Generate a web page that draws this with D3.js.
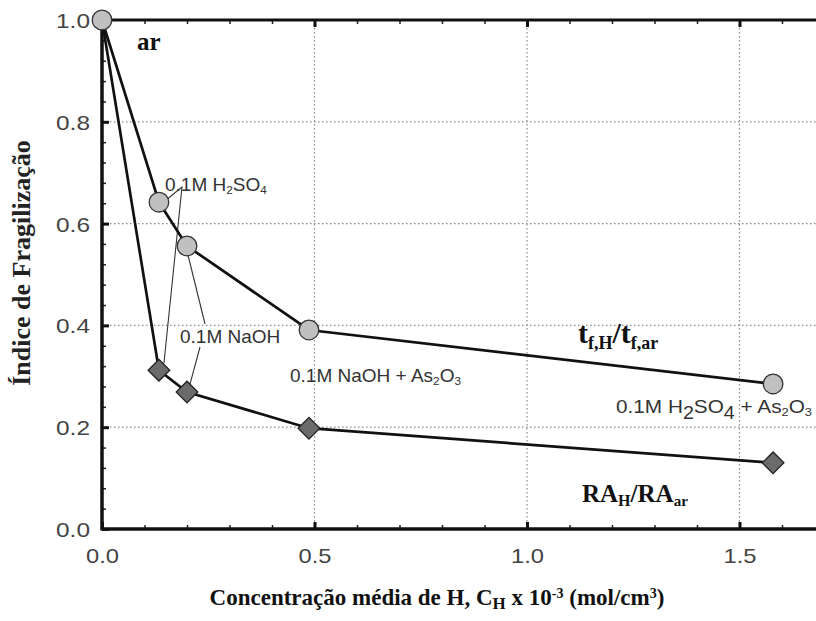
<!DOCTYPE html>
<html>
<head>
<meta charset="utf-8">
<script src="https://cdn.jsdelivr.net/npm/d3@7"></script>
<style>
  html, body { margin: 0; padding: 0; background: #fff; }
  svg { display: block; }
</style>
</head>
<body>
<svg id="chart" width="816" height="621"></svg>
<script>
// Average hydrogen concentration (x 10^-3 mol/cm^3)
const concentration = [0.0, 0.134, 0.200, 0.487, 1.579];
// Time-to-fracture ratio t_f,H / t_f,ar
const timeRatio = [1.0, 0.642, 0.556, 0.391, 0.285];
// Area-reduction ratio RA_H / RA_ar
const areaRatio = [1.0, 0.312, 0.269, 0.198, 0.130];
const xTicks = [0.0, 0.5, 1.0, 1.5];
const yTicks = [0.0, 0.2, 0.4, 0.6, 0.8, 1.0];

const svg = d3.select("#chart");
const pLeft = 102, pTop = 20, pBottom = 529, pRight = 816;
const x = d3.scaleLinear().domain([0, (pRight - pLeft) / 425]).range([pLeft, pRight]);
const y = d3.scaleLinear().domain([0, 1]).range([pBottom, pTop]);

const sans = "'Liberation Sans', Arial, sans-serif";
const serif = "'Liberation Serif', 'Times New Roman', serif";

// dotted grid
const grid = svg.append("g").attr("stroke", "#8a8a8a").attr("stroke-width", 1.2)
  .attr("stroke-dasharray", "1.5,2.5");
[0.2, 0.4, 0.6, 0.8].forEach(v => grid.append("line")
  .attr("x1", pLeft).attr("x2", pRight).attr("y1", y(v)).attr("y2", y(v)));
[0.5, 1.0, 1.5].forEach(v => grid.append("line")
  .attr("x1", x(v)).attr("x2", x(v)).attr("y1", pTop).attr("y2", pBottom));

// axes with inward ticks
const xMinor = d3.range(0.1, 1.7, 0.1).filter(v => Math.abs(v * 2 - Math.round(v * 2)) > 1e-6);
const yMinor = d3.range(0.04, 1.0, 0.04).filter(v => Math.abs(v * 5 - Math.round(v * 5)) > 1e-6);

function stripAxis(g) {
  g.selectAll("text").remove();
  g.select(".domain").remove();
}

const xAxisBottom = svg.append("g").attr("transform", `translate(0,${pBottom})`)
  .call(d3.axisBottom(x).tickValues(xTicks).tickSize(-7).tickFormat(d3.format(".1f")));
xAxisBottom.select(".domain").remove();
xAxisBottom.selectAll(".tick line").attr("stroke", "#111").attr("stroke-width", 3);
xAxisBottom.selectAll("text").attr("font-family", sans).attr("font-size", 21)
  .attr("fill", "#444").attr("dy", "0").attr("y", 34)
  .attr("textLength", 33).attr("lengthAdjust", "spacingAndGlyphs");

const xMinorBottom = svg.append("g").attr("transform", `translate(0,${pBottom})`)
  .call(d3.axisBottom(x).tickValues(xMinor).tickSize(-4));
stripAxis(xMinorBottom);
xMinorBottom.selectAll(".tick line").attr("stroke", "#222").attr("stroke-width", 1.5);

const xAxisTop = svg.append("g").attr("transform", `translate(0,${pTop})`)
  .call(d3.axisTop(x).tickValues(xTicks.slice(1)).tickSize(-7));
stripAxis(xAxisTop);
xAxisTop.selectAll(".tick line").attr("stroke", "#111").attr("stroke-width", 3);
const xMinorTop = svg.append("g").attr("transform", `translate(0,${pTop})`)
  .call(d3.axisTop(x).tickValues(xMinor).tickSize(-4));
stripAxis(xMinorTop);
xMinorTop.selectAll(".tick line").attr("stroke", "#222").attr("stroke-width", 1.5);

const yAxis = svg.append("g").attr("transform", `translate(${pLeft},0)`)
  .call(d3.axisLeft(y).tickValues(yTicks).tickSize(-7).tickFormat(d3.format(".1f")));
yAxis.select(".domain").remove();
yAxis.selectAll(".tick line").attr("stroke", "#111").attr("stroke-width", 3);
yAxis.selectAll("text").attr("font-family", sans).attr("font-size", 21)
  .attr("fill", "#444").attr("x", -12).attr("dy", "0.36em")
  .attr("textLength", 34).attr("lengthAdjust", "spacingAndGlyphs");

const yMinorAxis = svg.append("g").attr("transform", `translate(${pLeft},0)`)
  .call(d3.axisLeft(y).tickValues(yMinor).tickSize(-4));
stripAxis(yMinorAxis);
yMinorAxis.selectAll(".tick line").attr("stroke", "#222").attr("stroke-width", 1.5);

// frame lines
svg.append("line").attr("x1", pLeft).attr("x2", pLeft).attr("y1", pTop - 1.5).attr("y2", pBottom + 1.5)
  .attr("stroke", "#111").attr("stroke-width", 3.5);
svg.append("line").attr("x1", pLeft).attr("x2", pRight).attr("y1", pBottom).attr("y2", pBottom)
  .attr("stroke", "#111").attr("stroke-width", 3.5);
svg.append("line").attr("x1", pLeft).attr("x2", pRight).attr("y1", pTop).attr("y2", pTop)
  .attr("stroke", "#111").attr("stroke-width", 3);

// leader lines from labels to their points
const leaders = svg.append("g").attr("stroke", "#333").attr("stroke-width", 1.1).attr("fill", "none");
leaders.append("polyline").attr("points",
  `${x(concentration[1]) + 8},${y(timeRatio[1]) - 3} 182,187 ${x(concentration[1]) + 5},${y(areaRatio[1]) - 7}`);
leaders.append("line").attr("x1", x(concentration[2]) + 1).attr("y1", y(timeRatio[2]) + 9)
  .attr("x2", 205).attr("y2", 324);
leaders.append("line").attr("x1", 200).attr("y1", 347)
  .attr("x2", x(concentration[2]) + 3).attr("y2", y(areaRatio[2]) - 8);

// series lines
const line = d3.line().x(d => x(d[0])).y(d => y(d[1]));
const tfPts = concentration.map((c, i) => [c, timeRatio[i]]);
const raPts = concentration.map((c, i) => [c, areaRatio[i]]);
svg.append("path").attr("d", line(tfPts)).attr("fill", "none").attr("stroke", "#111").attr("stroke-width", 2.7);
svg.append("path").attr("d", line(raPts)).attr("fill", "none").attr("stroke", "#111").attr("stroke-width", 2.7);

// markers
svg.append("g").selectAll("path").data(raPts.slice(1)).join("path")
  .attr("d", d3.symbol().type(d3.symbolSquare).size(235))
  .attr("transform", d => `translate(${x(d[0])},${y(d[1])}) rotate(45)`)
  .attr("fill", "#6b6b6b").attr("stroke", "#222").attr("stroke-width", 1.3);
svg.append("g").selectAll("circle").data(tfPts).join("circle")
  .attr("cx", d => x(d[0])).attr("cy", d => y(d[1])).attr("r", 9.8)
  .attr("fill", "#c0c0c0").attr("stroke", "#333").attr("stroke-width", 1.3);

// annotations
function label(xp, yp, parts, size, family, weight, fill) {
  const t = svg.append("text").attr("x", xp).attr("y", yp)
    .attr("font-family", family).attr("font-size", size).attr("font-weight", weight || "normal")
    .attr("fill", fill || "#333");
  parts.forEach(p => {
    const s = t.append("tspan").text(p.t);
    if (p.sub) s.attr("font-size", p.sz || size * 0.62).attr("baseline-shift", p.shift || "-28%");
  });
  return t;
}

label(137, 50, [{t: "ar"}], 25, serif, "bold", "#111");
label(165, 191, [{t: "0.1M H"}, {t: "2", sub: true}, {t: "SO"}, {t: "4", sub: true}], 19, sans);
label(180, 343, [{t: "0.1M NaOH"}], 19, sans);
label(290, 382, [{t: "0.1M NaOH + As"}, {t: "2", sub: true}, {t: "O"}, {t: "3", sub: true}], 19, sans);
label(616, 413, [{t: "0.1M H"}, {t: "2", sub: true, sz: 18, shift: "-32%"}, {t: "SO"},
  {t: "4", sub: true, sz: 18, shift: "-32%"}, {t: " + As"}, {t: "2", sub: true}, {t: "O"}, {t: "3", sub: true}], 19, sans)
  .attr("textLength", 196).attr("lengthAdjust", "spacingAndGlyphs");
label(578, 343, [{t: "t"}, {t: "f,H", sub: true, sz: 18, shift: "-35%"}, {t: "/t"}, {t: "f,ar", sub: true, sz: 18, shift: "-35%"}], 30, serif, "bold", "#111");
label(582, 502, [{t: "RA"}, {t: "H", sub: true, sz: 16}, {t: "/RA"}, {t: "ar", sub: true, sz: 15}], 25, serif, "bold", "#111");

// axis titles
svg.append("text").attr("transform", "translate(30,263) rotate(-90)").attr("text-anchor", "middle")
  .attr("font-family", serif).attr("font-weight", "bold").attr("font-size", 26).attr("fill", "#222")
  .text("Índice de Fragilização");

const xt = svg.append("text").attr("x", 437).attr("y", 605).attr("text-anchor", "middle")
  .attr("font-family", serif).attr("font-weight", "bold").attr("font-size", 23).attr("fill", "#111");
xt.append("tspan").text("Concentração média de H, C");
xt.append("tspan").text("H").attr("font-size", 17).attr("baseline-shift", "-25%");
xt.append("tspan").text(" x 10");
xt.append("tspan").text("-3").attr("font-size", 14).attr("baseline-shift", "super");
xt.append("tspan").text(" (mol/cm");
xt.append("tspan").text("3").attr("font-size", 14).attr("baseline-shift", "super");
xt.append("tspan").text(")");
</script>
</body>
</html>
